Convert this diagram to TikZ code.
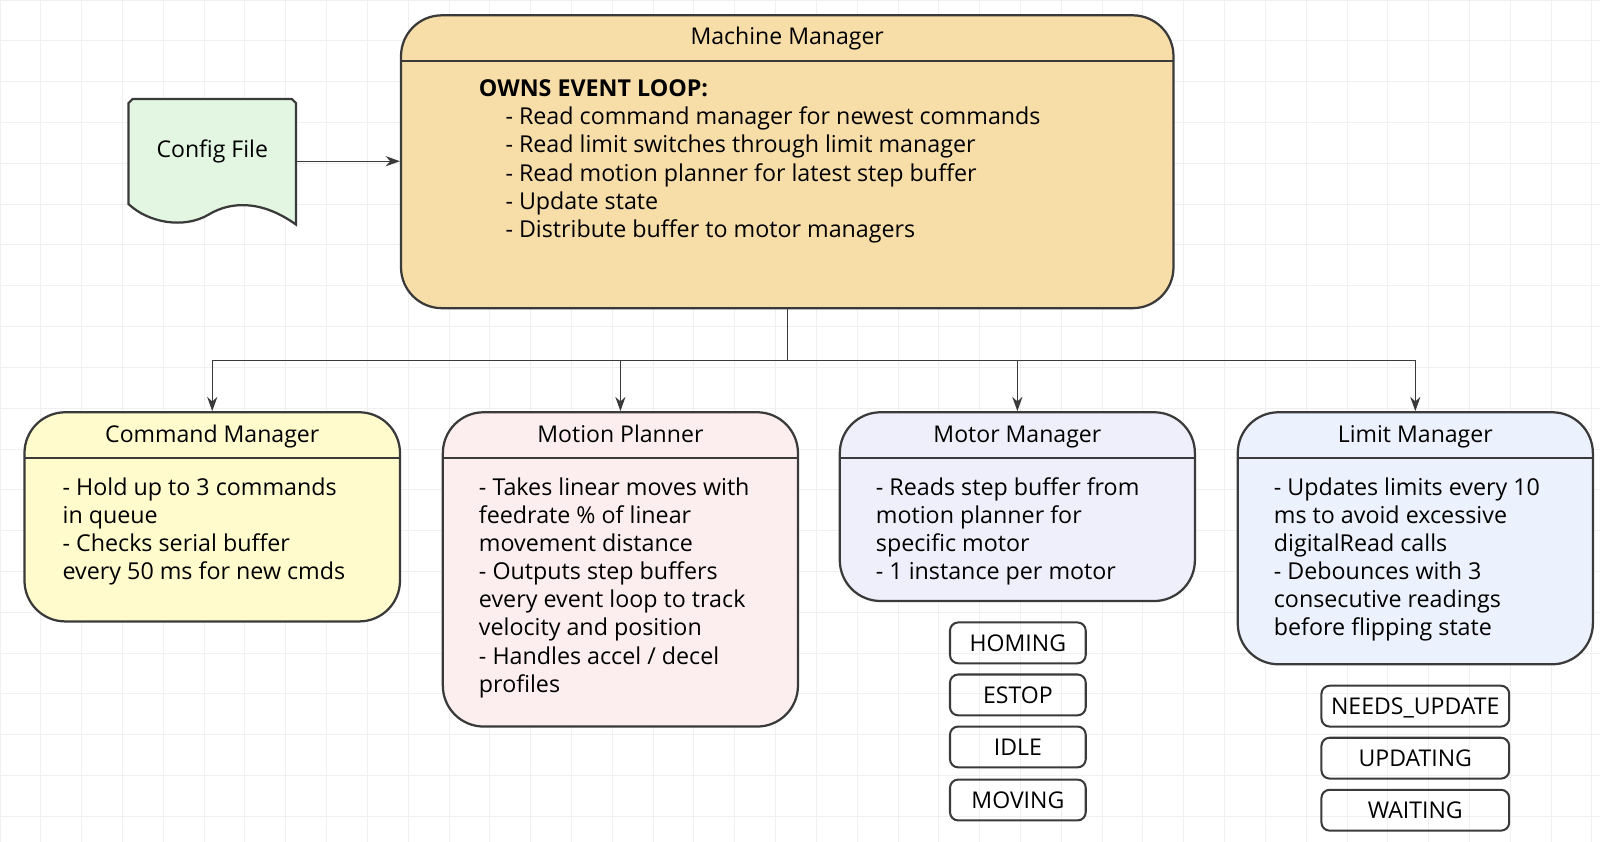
\documentclass[tikz,border=0pt]{standalone}
\usepackage{fontspec}
\setmainfont{Open Sans}
\usetikzlibrary{arrows.meta}
\definecolor{strk}{HTML}{3A3A3A}
\tikzset{
 box/.style={draw=strk,line width=1.1pt,rounded corners=20pt,inner sep=0pt},
 st/.style={draw=strk,line width=1pt,rounded corners=4pt,inner sep=0pt,font=\fontsize{11.3}{13}\selectfont,text height=8pt,text depth=0pt},
 ttl/.style={font=\fontsize{11.3}{13}\selectfont,text height=8pt,text depth=2pt},
 body/.style={anchor=north west,align=left,inner sep=0pt,font=\fontsize{11.4}{13.75}\selectfont},
 conn/.style={draw=strk,line width=0.6pt,-{Stealth[length=7pt,width=5pt]}},
}
\begin{document}
\begin{tikzpicture}[x=0.5pt,y=-0.5pt]
\useasboundingbox (0,0) rectangle (1568,825);
\fill[white] (0,0) rectangle (1568,825);
\draw[gray!12,line width=0.4pt] (0,0) grid[step=20pt] (1568,825);
% Machine manager
\node[box,fill={rgb,255:red,247;green,221;blue,168},minimum width=378.5pt,minimum height=143.5pt] (mm) at (771.5,158.5) {};
\draw[strk,line width=1.1pt] (393,60) -- (1150,60);
\node[ttl] (mmt) at (771.5,38) {Machine Manager};
\node[body] (mmb) at (469,78) {\textbf{OWNS EVENT LOOP:}\\
\hspace*{13pt}- Read command manager for newest commands\\
\hspace*{13pt}- Read limit switches through limit manager\\
\hspace*{13pt}- Read motion planner for latest step buffer\\
\hspace*{13pt}- Update state\\
\hspace*{13pt}- Distribute buffer to motor managers};
% Config file
\filldraw[draw=strk,line width=1.1pt,fill={rgb,255:red,226;green,246;blue,226}]
 (130,97) -- (286,97) -- (290,101) -- (290,220) .. controls (255,195) and (225,198) .. (205,210) .. controls (180,225) and (145,218) .. (126,200) -- (126,101) -- cycle;
\node[ttl,minimum width=82pt,minimum height=40pt] (cf) at (208,148) {Config File};
\coordinate (cfr) at (290,158);
\draw[conn] (cfr) -- (mm.west |- cfr);
% lower boxes
\node[box,fill={rgb,255:red,255;green,251;blue,204},minimum width=184pt,minimum height=102.5pt] (cm) at (208,506.5) {};
\draw[strk,line width=1.1pt] (24,449) -- (392,449);
\node[ttl] at (208,428) {Command Manager};
\node[body] at (61,468) {- Hold up to 3 commands\\in queue\\- Checks serial buffer\\every 50 ms for new cmds};

\node[box,fill={rgb,255:red,252;green,238;blue,238},minimum width=174pt,minimum height=154pt] (mp) at (608,558) {};
\draw[strk,line width=1.1pt] (434,449) -- (782,449);
\node[ttl] at (608,428) {Motion Planner};
\node[body] at (469,468) {- Takes linear moves with\\feedrate \% of linear\\movement distance\\- Outputs step buffers\\every event loop to track\\velocity and position\\- Handles accel / decel\\profiles};

\node[box,fill={rgb,255:red,239;green,239;blue,252},minimum width=174pt,minimum height=92.5pt] (mo) at (997,496.5) {};
\draw[strk,line width=1.1pt] (823,449) -- (1171,449);
\node[ttl] at (997,428) {Motor Manager};
\node[body] at (858,468) {- Reads step buffer from\\motion planner for\\specific motor\\- 1 instance per motor};

\node[box,fill={rgb,255:red,235;green,242;blue,254},minimum width=174pt,minimum height=123.5pt] (lm) at (1387,527.5) {};
\draw[strk,line width=1.1pt] (1213,449) -- (1561,449);
\node[ttl] at (1387,428) {Limit Manager};
\node[body] at (1248,468) {- Updates limits every 10\\ms to avoid excessive\\digitalRead calls\\- Debounces with 3\\consecutive readings\\before flipping state};
% states
\foreach \n/\y/\t in {s1/630/HOMING,s2/681/ESTOP,s3/732/IDLE,s4/784/MOVING}
 \node[st,minimum width=66.5pt,minimum height=20pt] (\n) at (997.5,\y) {\t};
\foreach \n/\y/\t in {l1/692/NEEDS\_UPDATE,l2/743/UPDATING,l3/794/WAITING}
 \node[st,minimum width=92pt,minimum height=20pt] (\n) at (1387,\y) {\t};
% connectors
\draw[strk,line width=0.6pt] (mm.south) -- ++(0,50) coordinate (j);
\draw[conn] (j) -| (cm.north);
\draw[conn] (j) -| (mp.north);
\draw[conn] (j) -| (mo.north);
\draw[conn] (j) -| (lm.north);
\end{tikzpicture}
\end{document}
